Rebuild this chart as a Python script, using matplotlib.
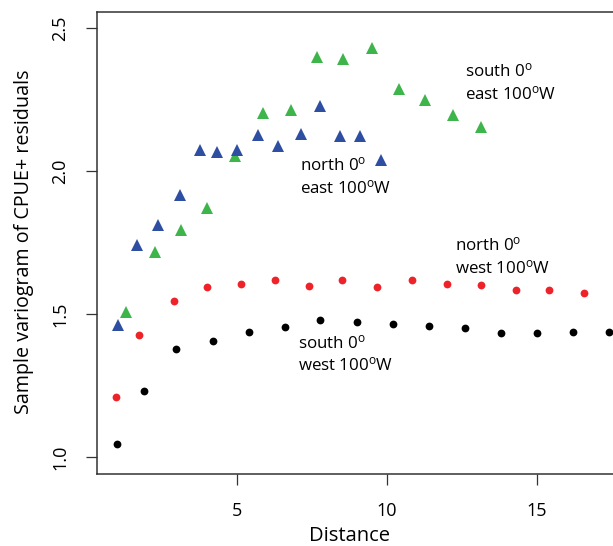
import matplotlib
matplotlib.use("Agg")
import matplotlib.pyplot as plt

plt.rcParams["font.family"] = ["Open Sans", "DejaVu Sans"]
plt.rcParams["mathtext.fontset"] = "custom"
plt.rcParams["mathtext.rm"] = "Open Sans"
plt.rcParams["mathtext.it"] = "Open Sans"

# Sample variograms of CPUE+ residuals, four directional groups
south_west_dist = [1.03, 1.92, 2.98, 4.21, 5.43, 6.62, 7.78, 9.00, 10.21, 11.41, 12.61, 13.81, 15.02, 16.21, 17.41]
south_west_gamma = [1.044, 1.232, 1.377, 1.406, 1.437, 1.455, 1.479, 1.473, 1.464, 1.458, 1.450, 1.435, 1.435, 1.436, 1.436]

north_west_dist = [0.97, 1.76, 2.92, 4.03, 5.15, 6.29, 7.42, 8.53, 9.69, 10.85, 12.01, 13.16, 14.31, 15.43, 16.57]
north_west_gamma = [1.211, 1.426, 1.547, 1.595, 1.605, 1.620, 1.599, 1.620, 1.595, 1.619, 1.604, 1.602, 1.583, 1.583, 1.573]

north_east_dist = [1.04, 1.67, 2.39, 3.12, 3.78, 4.34, 5.03, 5.73, 6.37, 7.15, 7.78, 8.45, 9.12, 9.81]
north_east_gamma = [1.462, 1.740, 1.811, 1.915, 2.073, 2.065, 2.073, 2.125, 2.088, 2.128, 2.227, 2.123, 2.123, 2.038]

south_east_dist = [1.31, 2.28, 3.16, 4.03, 4.95, 5.89, 6.82, 7.67, 8.56, 9.50, 10.40, 11.29, 12.22, 13.15]
south_east_gamma = [1.508, 1.716, 1.794, 1.871, 2.053, 2.202, 2.213, 2.398, 2.393, 2.431, 2.288, 2.248, 2.196, 2.155]

x_ticks = [5, 10, 15]
y_ticks = [1.0, 1.5, 2.0, 2.5]

W, H = 613, 546
fig = plt.figure(figsize=(W / 100, H / 100), dpi=100)
ax = fig.add_axes([97 / W, (H - 474) / H, (W - 97) / W, (474 - 12) / H])

deg = r"$^{\mathrm{o}}$"

ax.plot(south_west_dist, south_west_gamma, "o", color="black", ms=5.6, mew=0, clip_on=False)
ax.plot(north_west_dist, north_west_gamma, "o", color="#ee2229", ms=5.6, mew=0, clip_on=False)
ax.plot(south_east_dist, south_east_gamma, "^", color="#3db54a", ms=8.0, mew=0, clip_on=False)
ax.plot(north_east_dist, north_east_gamma, "^", color="#2e4ea1", ms=8.0, mew=0, clip_on=False)

ax.set_xlim(0.35, 17.55)
ax.set_ylim(0.9406, 2.556)

ax.set_xticks(x_ticks)
ax.set_xticklabels([str(v) for v in x_ticks])
ax.set_yticks(y_ticks)
ax.set_yticklabels([f"{v:.1f}" for v in y_ticks], rotation=90, va="center")

ax.tick_params(direction="out", length=8, width=0.9, color="#333333",
               labelsize=13, pad=12)
for side in ("left", "bottom", "top"):
    ax.spines[side].set_linewidth(1.1)
    ax.spines[side].set_color("#333333")
ax.spines["right"].set_visible(False)

ax.set_xlabel("Distance", fontsize=14.5)
ax.set_ylabel("Sample variogram of CPUE+ residuals", fontsize=14.2)
ax.xaxis.set_label_coords(0.49, -0.113)
ax.yaxis.set_label_coords(-0.122, 0.503)

labels = [
    (7.12, 2.003, "north 0" + deg), (7.12, 1.923, "east 100" + deg + "W"),
    (12.62, 2.332, "south 0" + deg), (12.62, 2.252, "east 100" + deg + "W"),
    (12.28, 1.724, "north 0" + deg), (12.28, 1.644, "west 100" + deg + "W"),
    (7.05, 1.381, "south 0" + deg), (7.05, 1.304, "west 100" + deg + "W"),
]
for x, y, s in labels:
    ax.text(x, y, s, fontsize=12.2, ha="left", va="baseline")

fig.savefig("out.png", dpi=100)
